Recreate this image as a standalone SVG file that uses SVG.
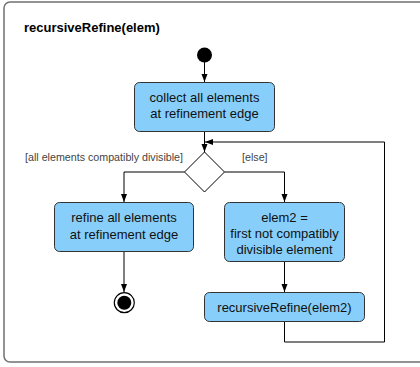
<svg xmlns="http://www.w3.org/2000/svg" width="420" height="367" viewBox="0 0 420 367">
<defs>
<marker id="arr" viewBox="0 0 8 8" refX="8" refY="4" markerWidth="8" markerHeight="8" markerUnits="userSpaceOnUse" orient="auto">
<path d="M0,1 L8,4 L0,7 z" fill="#000"/>
</marker>
</defs>
<style>
.frame{fill:#fff;stroke:#707070;stroke-width:1.5}
.act{fill:#87CEFA;stroke:#333;stroke-width:1}
.t{font-family:"Liberation Sans",Arial,sans-serif;font-size:13px;fill:#111;text-anchor:middle}
.g{font-family:"Liberation Sans",Arial,sans-serif;font-size:10.7px;fill:#444}
.title{font-family:"Liberation Sans",Arial,sans-serif;font-size:13px;font-weight:bold;fill:#000}
.c{fill:none;stroke:#000;stroke-width:1}
</style>
<rect width="420" height="367" fill="#fff"/>
<g id="frame">
<rect class="frame" x="4" y="2" width="424" height="360" rx="6"/>
<text class="title" x="24" y="32">recursiveRefine(elem)</text>
</g>
<g id="connectors">
<path class="c" d="M204.5,62 V82" marker-end="url(#arr)"/>
<path class="c" d="M204.5,132 V152" marker-end="url(#arr)"/>
<path class="c" d="M184.5,172 H124 V202" marker-end="url(#arr)"/>
<path class="c" d="M224.5,172 H284.5 V202" marker-end="url(#arr)"/>
<path class="c" d="M124,252 V292" marker-end="url(#arr)"/>
<path class="c" d="M284.5,262 V292" marker-end="url(#arr)"/>
<path class="c" d="M284.5,322 V342 H384.5 V142 H205" marker-end="url(#arr)"/>
<text class="g" x="25" y="161">[all elements compatibly divisible]</text>
<text class="g" x="242" y="161">[else]</text>
</g>
<g id="start">
<circle cx="204.5" cy="55" r="7.5" fill="#000"/>
</g>
<g id="collect">
<rect class="act" x="134.5" y="82.5" width="140" height="49" rx="5"/>
<text class="t" x="204.5" y="102">collect all elements</text>
<text class="t" x="204.5" y="118">at refinement edge</text>
</g>
<g id="decision">
<polygon points="204.5,152 224.5,172 204.5,192 184.5,172" fill="#fff" stroke="#000" stroke-width="1"/>
</g>
<g id="refineAll">
<rect class="act" x="54.5" y="202.5" width="139" height="49" rx="5"/>
<text class="t" x="124" y="222">refine all elements</text>
<text class="t" x="124" y="239">at refinement edge</text>
</g>
<g id="final">
<circle cx="124.3" cy="302.7" r="10" fill="#fff" stroke="#000" stroke-width="1.2"/>
<circle cx="124.3" cy="302.7" r="7" fill="#000"/>
</g>
<g id="elem2">
<rect class="act" x="224.5" y="202.5" width="120" height="59" rx="5"/>
<text class="t" x="284.5" y="222">elem2 =</text>
<text class="t" x="284.5" y="238">first not compatibly</text>
<text class="t" x="284.5" y="254">divisible element</text>
</g>
<g id="recurse">
<rect class="act" x="204.5" y="292.5" width="160" height="29" rx="5"/>
<text class="t" x="284.5" y="312">recursiveRefine(elem2)</text>
</g>
</svg>
